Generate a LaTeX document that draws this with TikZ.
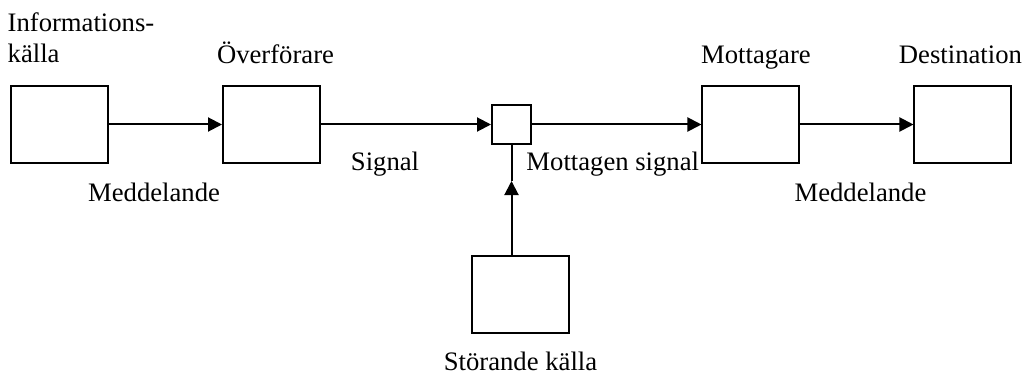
\documentclass[tikz,border=0pt]{standalone}
\usepackage{fontspec}
\setmainfont{Liberation Serif}
\usetikzlibrary{positioning, arrows.meta}

\begin{document}
\begin{tikzpicture}[->,
>={Triangle[length=10.5pt, width=10.5pt]},
line width=1.5pt,
node distance=159pt,
block/.style={draw, fill=white, rectangle, inner sep=0pt, minimum width=72.75pt, minimum height=57.75pt},
sumbox/.style={draw, fill=white, rectangle, inner sep=0pt, minimum size=29.25pt},
lbl/.style={draw=none, fill=none, inner sep=0pt, font=\fontsize{20}{23.25}\selectfont}]

\useasboundingbox (0,0) rectangle (767.25pt,-280.5pt);

\node[block]	(src) at (44.625pt,-93.375pt)	{};
\node[block]	(tx)[right of=src]	{};
\node[sumbox]	(sum)[right of=tx, xshift=21pt]	{};
\node[block]	(rx)[right of=sum, xshift=20.6pt]	{};
\node[block]	(dst)[right of=rx]	{};
\node[block]	(noise)[below of=sum, yshift=31.3pt, xshift=6.75pt]	{};

\node[lbl, anchor=south west, align=left]	(tsrc) at ([xshift=-2.5pt, yshift=15.75pt]src.north west)	{Informations-\\källa};
\node[lbl, anchor=base]	(ttx) at ([xshift=3pt, yshift=15.75pt]tx.north)	{Överförare};
\node[lbl, anchor=base]	(trx) at ([xshift=3.75pt, yshift=15.75pt]rx.north)	{Mottagare};
\node[lbl, anchor=base]	(tdst) at ([xshift=-1.9pt, yshift=15.75pt]dst.north)	{Destination};
\node[lbl, anchor=north]	(tnoise) at ([yshift=-12.4pt]noise.south)	{Störande källa};

\path[->]
 (src)	edge node[lbl, below=43pt, xshift=-8.6pt]	(msg1)	{Meddelande}	(tx)
 (tx)	edge node[lbl, below=20pt, xshift=-15.75pt]	(sig)	{Signal}	(sum)
 (sum)	edge node[lbl, below=20pt, xshift=-3pt]	(rsig)	{Mottagen signal}	(rx)
 (rx)	edge node[lbl, below=43pt, xshift=2.6pt]	(msg2)	{Meddelande}	(dst);

% noise enters the summing box from below, tip halfway up
\coordinate (nz) at (sum |- noise.north);
\coordinate (tip) at ([yshift=-27pt]sum.south);
\draw[->] (nz) -- (tip);
\draw[-] (tip) -- (sum.south);

\end{tikzpicture}
\end{document}
